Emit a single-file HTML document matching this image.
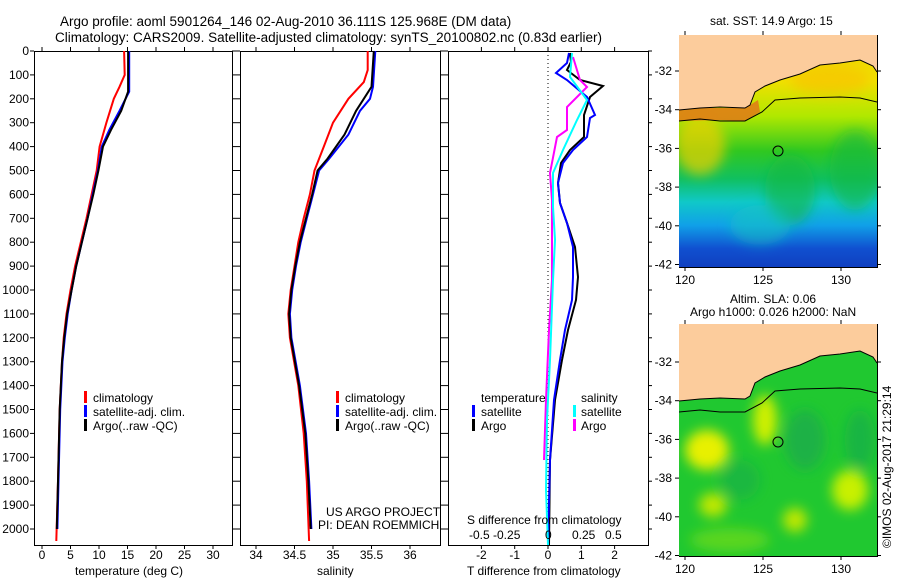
<!DOCTYPE html>
<html><head><meta charset="utf-8">
<style>
body{margin:0;background:#fff;}
svg text{font-family:"Liberation Sans",sans-serif;font-size:12px;fill:#000;}
</style></head><body>
<svg id="s" width="900" height="580" xmlns="http://www.w3.org/2000/svg">
<defs>
<linearGradient id="sst" x1="0" y1="0" x2="0" y2="1">
<stop offset="0" stop-color="#f0d000"/>
<stop offset="0.2" stop-color="#f0e000"/>
<stop offset="0.35" stop-color="#b0e800"/>
<stop offset="0.5" stop-color="#30c820"/>
<stop offset="0.62" stop-color="#10c060"/>
<stop offset="0.72" stop-color="#10c8c8"/>
<stop offset="0.82" stop-color="#10a0e8"/>
<stop offset="0.92" stop-color="#1050d0"/>
<stop offset="1" stop-color="#1040c0"/>
</linearGradient>
<filter id="bl"><feGaussianBlur stdDeviation="6"/></filter>
<clipPath id="c1"><rect x="679" y="35" width="198" height="232"/></clipPath>
<clipPath id="c2"><rect x="679" y="324" width="198" height="232"/></clipPath>
</defs>
<text x="60" y="26" style="font-size:13.5px">Argo profile: aoml 5901264_146 02-Aug-2010 36.111S 125.968E (DM data)</text>
<text x="55" y="42" style="font-size:13.5px">Climatology: CARS2009. Satellite-adjusted climatology: synTS_20100802.nc (0.83d earlier)</text>
<g id="axes"></g>
<g clip-path="url(#c1)">
<rect x="679" y="35" width="198" height="232" fill="url(#sst)"/>
<g filter="url(#bl)">
<ellipse cx="700" cy="145" rx="25" ry="30" fill="#f0d000" opacity="0.7"/>
<ellipse cx="790" cy="190" rx="25" ry="35" fill="#10b840" opacity="0.6"/>
<ellipse cx="855" cy="170" rx="25" ry="40" fill="#10b840" opacity="0.6"/>
<ellipse cx="760" cy="225" rx="30" ry="20" fill="#10c8c0" opacity="0.5"/>
<ellipse cx="830" cy="80" rx="40" ry="15" fill="#f8c000" opacity="0.6"/>
</g>
<polygon points="679,108 745,108 750,105 758,100 760,112 745,121 720,120 679,121" fill="#e07818" opacity="0.85"/>
<polygon points="679,35 877,35 877,72 873,66 860,60 840,63 820,65 800,74 780,80 765,86 755,92 750,105 745,108 720,107 700,108 679,110" fill="#fccc9c"/>
<polyline points="679,121 700,119 720,121 745,121 762,112 775,100 800,98 840,97 860,98 877,102" fill="none" stroke="#000" stroke-width="1"/>
<polyline points="679,110 700,108 720,107 745,108 750,105 755,92 765,86 780,80 800,74 820,65 840,63 860,60 873,66 877,72" fill="none" stroke="#000" stroke-width="1"/>
<circle cx="778" cy="151" r="5" fill="none" stroke="#000"/>
</g>
<g clip-path="url(#c2)">
<rect x="679" y="324" width="198" height="232" fill="#20c830"/>
<g filter="url(#bl)">
<ellipse cx="707" cy="450" rx="22" ry="20" fill="#e8f000"/>
<ellipse cx="765" cy="420" rx="12" ry="25" fill="#d0f000"/>
<ellipse cx="850" cy="490" rx="18" ry="20" fill="#c8f000"/>
<ellipse cx="713" cy="505" rx="14" ry="12" fill="#c0e800"/>
<ellipse cx="795" cy="520" rx="12" ry="12" fill="#c0e800"/>
<ellipse cx="805" cy="440" rx="20" ry="30" fill="#18a850" opacity="0.7"/>
<ellipse cx="740" cy="480" rx="20" ry="20" fill="#18a850" opacity="0.5"/>
<ellipse cx="860" cy="440" rx="15" ry="30" fill="#18a850" opacity="0.6"/>
<ellipse cx="730" cy="540" rx="40" ry="12" fill="#80e010" opacity="0.6"/>
</g>
<polygon points="679,324 877,324 877,363 873,357 860,351 840,354 820,356 800,365 780,371 765,377 755,383 750,396 745,399 720,398 700,399 679,401" fill="#fccc9c"/>
<polyline points="679,412 700,410 720,412 745,412 762,403 775,391 800,389 840,388 860,389 877,393" fill="none" stroke="#000" stroke-width="1"/>
<polyline points="679,401 700,399 720,398 745,399 750,396 755,383 765,377 780,371 800,365 820,356 840,354 860,351 873,357 877,363" fill="none" stroke="#000" stroke-width="1"/>
<circle cx="778" cy="442" r="5" fill="none" stroke="#000"/>
</g>
<g id="lines"></g>
<text x="710" y="25">sat. SST: 14.9 Argo: 15</text>
<text x="730" y="303">Altim. SLA: 0.06</text>
<text x="690" y="316">Argo h1000: 0.026 h2000: NaN</text>
<text transform="translate(891,548) rotate(-90)">©IMOS 02-Aug-2017 21:29:14</text>
<g>
<rect x="84" y="391" width="3" height="12" fill="#f00"/><text x="93" y="402">climatology</text>
<rect x="84" y="405" width="3" height="12" fill="#00f"/><text x="93" y="416">satellite-adj. clim.</text>
<rect x="84" y="419" width="3" height="12" fill="#000"/><text x="93" y="430">Argo(..raw -QC)</text>
<rect x="336" y="391" width="3" height="12" fill="#f00"/><text x="345" y="402">climatology</text>
<rect x="336" y="405" width="3" height="12" fill="#00f"/><text x="345" y="416">satellite-adj. clim.</text>
<rect x="336" y="419" width="3" height="12" fill="#000"/><text x="345" y="430">Argo(..raw -QC)</text>
<text x="481" y="402">temperature</text><text x="581" y="402">salinity</text>
<rect x="472" y="405" width="3" height="12" fill="#00f"/><text x="481" y="416">satellite</text>
<rect x="472" y="419" width="3" height="12" fill="#000"/><text x="481" y="430">Argo</text>
<rect x="573" y="405" width="3" height="12" fill="#0ff"/><text x="581" y="416">satellite</text>
<rect x="573" y="419" width="3" height="12" fill="#f0f"/><text x="581" y="430">Argo</text>
<text x="326" y="516">US ARGO PROJECT</text>
<text x="318" y="529">PI: DEAN ROEMMICH</text>
<text x="467" y="524">S difference from climatology</text>
<text x="469" y="539">-0.5 -0.25</text><text x="545" y="539">0</text><text x="572" y="539">0.25</text><text x="605" y="539">0.5</text>
<text x="75" y="575">temperature (deg C)</text>
<text x="317" y="575">salinity</text>
<text x="467" y="575">T difference from climatology</text>
</g>
</svg>
<script>
var NS="http://www.w3.org/2000/svg";
var ax=document.getElementById('axes'), ln=document.getElementById('lines');
function el(p,tag,a,t){var e=document.createElementNS(NS,tag);for(var k in a)e.setAttribute(k,a[k]);if(t!=null)e.textContent=t;p.appendChild(e);return e;}
function D(d){return 51+d*0.239;}
var boxes=[[34,232],[240,440],[448,648]];
boxes.forEach(function(b,i){
 el(ax,'rect',{x:b[0]+.5,y:51.5,width:b[1]-b[0],height:494,fill:'none',stroke:'#000'});
 for(var d=0;d<=2000;d+=100){var y=D(d);el(ax,'line',{x1:b[0],x2:b[0]-4,y1:y,y2:y,stroke:'#000'});
   el(ax,'line',{x1:b[1],x2:b[1]+4,y1:y,y2:y,stroke:'#000'});
   if(i==0)el(ax,'text',{x:29,y:y+4,'text-anchor':'end'},d);}
});
[0,5,10,15,20,25,30].forEach(function(v){var x=42+v*5.7;el(ax,'line',{x1:x,x2:x,y1:545,y2:549,stroke:'#000'});el(ax,'line',{x1:x,x2:x,y1:51,y2:47,stroke:'#000'});el(ax,'text',{x:x,y:559,'text-anchor':'middle'},v);});
[34,34.5,35,35.5,36].forEach(function(v){var x=256+(v-34)*77;el(ax,'line',{x1:x,x2:x,y1:545,y2:549,stroke:'#000'});el(ax,'line',{x1:x,x2:x,y1:51,y2:47,stroke:'#000'});el(ax,'text',{x:x,y:559,'text-anchor':'middle'},v);});
[-2,-1,0,1,2].forEach(function(v){var x=548+v*33.3;el(ax,'line',{x1:x,x2:x,y1:545,y2:549,stroke:'#000'});el(ax,'line',{x1:x,x2:x,y1:51,y2:47,stroke:'#000'});el(ax,'text',{x:x,y:559,'text-anchor':'middle'},v);});
el(ax,'line',{x1:548,x2:548,y1:51,y2:545,stroke:'#000','stroke-dasharray':'1,3'});
[[679,35,71],[679,324,362]].forEach(function(m){
 el(ax,'rect',{x:m[0]+.5,y:m[1]+.5,width:198,height:232,fill:'none',stroke:'#000'});
 for(var k=0;k<6;k++){var y=m[2]+k*38.7;el(ax,'line',{x1:m[0],x2:m[0]-4,y1:y,y2:y,stroke:'#000'});el(ax,'line',{x1:877,x2:881,y1:y,y2:y,stroke:'#000'});el(ax,'text',{x:672,y:y+4,'text-anchor':'end'},-32-2*k);}
 [120,125,130].forEach(function(v,j){var x=685+j*78;el(ax,'line',{x1:x,x2:x,y1:m[1]+232,y2:m[1]+236,stroke:'#000'});el(ax,'line',{x1:x,x2:x,y1:m[1],y2:m[1]-4,stroke:'#000'});el(ax,'text',{x:x,y:m[1]+249,'text-anchor':'middle'},v);});
});
function prof(pts,fx,col,w){var s=pts.map(function(p){return fx(p[1]).toFixed(1)+','+D(p[0]).toFixed(1)}).join(' ');el(ln,'polyline',{points:s,fill:'none',stroke:col,'stroke-width':w||2});}
var T=function(v){return 42+v*5.7}, S=function(v){return 256+(v-34)*77};
prof([[0,14.4],[100,14.5],[150,13.6],[200,12.6],[300,11.3],[400,10.1],[500,9.6],[600,8.7],[700,7.8],[800,6.8],[900,5.8],[1000,5.0],[1100,4.3],[1200,3.8],[1300,3.5],[1500,3.1],[1800,2.8],[2050,2.5]],T,'#f00');
prof([[0,15.3],[170,15.3],[250,13.6],[330,11.8],[400,10.5],[500,9.8],[600,8.9],[700,8.0],[800,7.0],[900,6.0],[1000,5.2],[1100,4.5],[1200,4.0],[1300,3.6],[1500,3.2],[1800,2.9],[2000,2.7]],T,'#00f');
prof([[0,15.1],[170,15.1],[250,13.9],[330,12.1],[400,10.7],[500,9.9],[600,9.0],[700,8.0],[800,7.0],[900,6.0],[1000,5.2],[1100,4.4],[1200,3.9],[1300,3.5],[1500,3.1],[1800,2.8],[2000,2.6]],T,'#000');
prof([[0,35.45],[80,35.45],[130,35.4],[200,35.2],[300,35.0],[400,34.88],[500,34.76],[600,34.7],[700,34.62],[800,34.55],[900,34.5],[1000,34.45],[1100,34.42],[1200,34.44],[1400,34.55],[1600,34.62],[1800,34.66],[2050,34.69]],S,'#f00');
prof([[0,35.55],[150,35.52],[200,35.48],[250,35.35],[350,35.2],[450,34.95],[500,34.82],[600,34.74],[700,34.66],[800,34.58],[900,34.52],[1000,34.47],[1100,34.44],[1200,34.46],[1400,34.57],[1600,34.65],[1800,34.69],[2000,34.72]],S,'#00f');
prof([[0,35.53],[150,35.5],[200,35.4],[250,35.3],[350,35.15],[450,34.93],[500,34.8],[600,34.73],[700,34.65],[800,34.57],[900,34.51],[1000,34.46],[1100,34.43],[1200,34.45],[1400,34.56],[1600,34.64],[1800,34.68],[2000,34.71]],S,'#000');
function pix(pts,col){el(ln,'polyline',{points:pts.map(function(p){return p[0]+','+p[1]}).join(' '),fill:'none',stroke:col,'stroke-width':2});}
pix([[570,53],[571,62],[567,70],[580,80],[603,86],[590,97],[584,115],[584,137],[570,150],[561,163],[558,183],[560,203],[567,223],[575,247],[578,277],[576,300],[568,330],[562,360],[555,400],[550,460],[549,545]],'#000');
pix([[569,53],[567,63],[556,73],[567,80],[587,97],[595,115],[590,118],[587,137],[573,150],[563,163],[558,183],[560,203],[567,223],[573,247],[573,277],[572,300],[565,330],[560,360],[554,400],[550,460],[548,545]],'#00f');
pix([[573,57],[580,80],[587,87],[567,107],[567,130],[557,137],[550,173],[552,200],[552,280],[549,330],[546,400],[544,460]],'#f0f');
pix([[572,53],[570,77],[587,100],[577,120],[563,150],[553,173],[553,207],[555,240],[553,280],[550,360],[547,420],[546,490],[548,545]],'#0ff');
</script>
</body></html>
